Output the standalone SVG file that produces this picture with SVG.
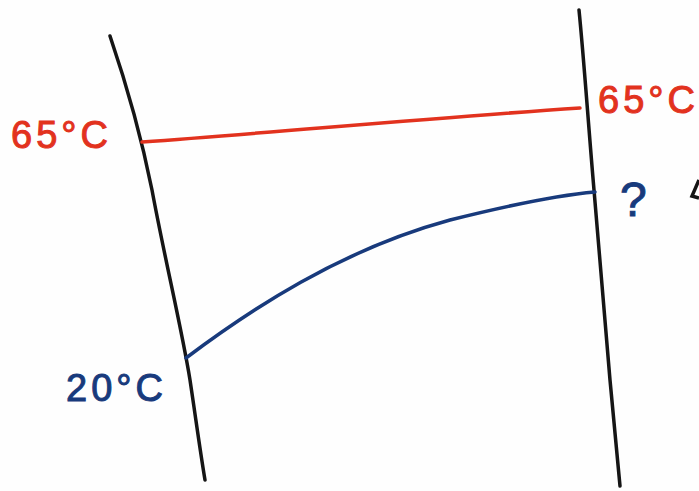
<svg xmlns="http://www.w3.org/2000/svg" width="699" height="491" viewBox="0 0 699 491">
<style>
.wall{fill:none;stroke:#151515;stroke-width:3.5;stroke-linecap:round}
.hot{fill:none;stroke:#e2321e;stroke-width:3.5;stroke-linecap:round}
.cold{fill:none;stroke:#183a7c;stroke-width:3.5;stroke-linecap:round}
.t{font-family:"Liberation Sans",Arial,sans-serif;font-size:38px;letter-spacing:4px;stroke-width:1}
.r{fill:#e2321e;stroke:#e2321e}
.b{fill:#183a7c;stroke:#183a7c}
</style>
<rect width="699" height="491" fill="#fefefe"/>
<g id="wall-left"><path class="wall" d="M110,36 C125,80 140,130 152,190 C165,260 182,330 190,380 C196,420 200,450 205,480"/></g>
<g id="wall-right"><path class="wall" d="M579,10 C584,60 588,120 594,190 C600,260 606,330 610,380 C614,420 617,455 620,486"/></g>
<g id="connectors">
<path class="hot" d="M142,142 C280,132 430,118 580,108"/>
<path class="cold" d="M186,358 C250,310 340,250 450,220 C510,205 560,195 595,192"/>
</g>
<g id="label-left-hot"><text class="t r" x="11" y="148">65°C</text></g>
<g id="label-right-hot"><text class="t r" x="598" y="113">65°C</text></g>
<g id="label-cold"><text class="t b" x="66" y="401">20°C</text></g>
<g id="label-unknown"><text class="t b" x="620" y="216" style="font-size:48px">?</text></g>
<path d="M699,180 L692,196 L699,198" fill="none" stroke="#151515" stroke-width="3.5"/>
</svg>
